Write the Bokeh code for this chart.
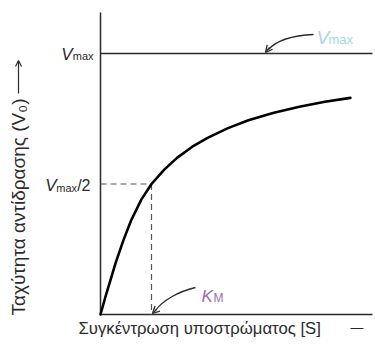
import math
from bokeh.plotting import figure
from bokeh.models import Range1d, Label, Arrow, OpenHead
from bokeh.embed import file_html
from bokeh.resources import INLINE

# ---- data (units: S in K_M, v in V_max) ----
VMAX = 1.0
KM = 1.0
S = [0, 0.1, 0.2, 0.3, 0.45, 0.6, 0.8, 1.0, 1.25, 1.5, 1.8, 2.1, 2.5, 2.9, 3.4, 3.9, 4.4, 4.9]
V = [0, 0.07, 0.135, 0.2, 0.285, 0.36, 0.44, 0.5, 0.555, 0.6, 0.643, 0.677, 0.714, 0.744, 0.773, 0.796, 0.815, 0.83]

Y_TITLE = "Ταχύτητα αντίδρασης (V₀)"
X_TITLE = "Συγκέντρωση υποστρώματος [S]"

W, H = 375, 345
OX, OY = 100, 314          # page position of the origin
AX_RIGHT, AX_TOP = 372, 12  # page ends of the axis lines
FONT = "Liberation Sans"
INK = "#2b2b2b"
BLUE = "#a6d8e6"
PURPLE = "#9a6cb6"

PX_PER_S = 51.0
PX_PER_V = 261.0
SHIFT = 6  # baseline correction (px)

p = figure(width=W, height=H, output_backend="svg", toolbar_location=None,
           x_range=Range1d(-OX / PX_PER_S, (W - OX) / PX_PER_S),
           y_range=Range1d(-(H - OY) / PX_PER_V, OY / PX_PER_V),
           min_border=0)
p.outline_line_color = None
p.grid.visible = False
p.xaxis.visible = False
p.yaxis.visible = False
p.background_fill_color = "white"
p.border_fill_color = "white"

X_END = (AX_RIGHT - OX) / PX_PER_S
Y_END = (OY - AX_TOP) / PX_PER_V

# axis lines and Vmax line
p.line([0, X_END], [0, 0], line_color=INK, line_width=1.5)
p.line([0, 0], [0, Y_END], line_color=INK, line_width=1.5)
p.line([0, X_END], [VMAX, VMAX], line_color=INK, line_width=1.5)

# dashed guides
p.line([0, KM], [VMAX / 2, VMAX / 2], line_color="#555555", line_width=1.2, line_dash="6 4")
p.line([KM, KM], [VMAX / 2, 0], line_color="#555555", line_width=1.2, line_dash="6 4")

# curve
p.line(S, V, line_color="black", line_width=2.6, line_cap="round", line_join="round")

# helpers: page px -> data / screen
def dx(px):
    return (px - OX) / PX_PER_S

def dy(py):
    return (OY - py) / PX_PER_V

def sx(px):
    return px

def sy(py):
    return H - py

def lab(text, px, py, size, color=INK, style="normal", align="left", baseline="alphabetic", angle=0):
    if baseline == "alphabetic":
        py = py - SHIFT
    p.add_layout(Label(x=sx(px), y=sy(py), x_units="screen", y_units="screen", text=text,
                       text_font=FONT, text_font_size=f"{size}px", text_color=color,
                       text_font_style=style, text_align=align, text_baseline=baseline,
                       angle=angle))

# tick-like labels on the y axis
lab("V", 72, 60, 17, style="italic", align="right")
lab("max", 93, 61, 11, align="right")
lab("/2", 90, 191, 16, align="right")
lab("max", 76.5, 193, 11, align="right")
lab("V", 56, 191, 17, style="italic", align="right")

# coloured labels
lab("V", 316, 43, 19, color=BLUE, style="italic")
lab("max", 328, 45, 13, color=BLUE)
lab("K", 201, 302, 17, color=PURPLE, style="italic")
lab("M", 213, 303, 12, color=PURPLE)

# curved pointers
p.bezier(x0=[dx(313)], y0=[dy(34)], x1=[dx(268)], y1=[dy(49)],
         cx0=[dx(292)], cy0=[dy(35)], cx1=[dx(276)], cy1=[dy(40)],
         line_color=INK, line_width=1.3)
p.add_layout(Arrow(x_start=dx(269), y_start=dy(47), x_end=dx(265), y_end=dy(52),
                   line_color=INK, line_width=1.3,
                   end=OpenHead(size=7, line_color=INK, line_width=1.3)))
p.bezier(x0=[dx(195)], y0=[dy(287)], x1=[dx(155)], y1=[dy(310)],
         cx0=[dx(178)], cy0=[dy(291)], cx1=[dx(162)], cy1=[dy(300)],
         line_color=INK, line_width=1.3)
p.add_layout(Arrow(x_start=dx(156), y_start=dy(309), x_end=dx(152), y_end=dy(313),
                   line_color=INK, line_width=1.3,
                   end=OpenHead(size=7, line_color=INK, line_width=1.3)))

# axis titles
lab(Y_TITLE, 18, 315, 19, align="left", baseline="middle", angle=math.pi / 2)
p.add_layout(Arrow(x_start=sx(18), y_start=sy(93), x_end=sx(18), y_end=sy(60),
                   start_units="screen", end_units="screen", line_color=INK, line_width=1.2,
                   end=OpenHead(size=6, line_color=INK, line_width=1.2)))
lab(X_TITLE, 78, 334, 16.7, align="left")
p.line([dx(350), dx(363)], [dy(328), dy(328)], line_color=INK, line_width=1.2)

open("out.html", "w").write(file_html(p, INLINE))
